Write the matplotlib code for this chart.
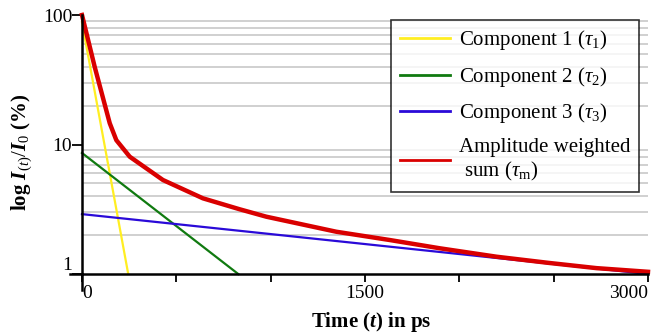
import matplotlib
matplotlib.use("Agg")
import matplotlib.pyplot as plt
from matplotlib.ticker import FixedLocator, NullFormatter, LogLocator

plt.rcParams['font.family'] = ['Liberation Serif', 'DejaVu Serif']
plt.rcParams['mathtext.fontset'] = 'custom'
plt.rcParams['mathtext.rm'] = 'Liberation Serif'
plt.rcParams['mathtext.it'] = 'Liberation Serif:italic'
plt.rcParams['mathtext.bf'] = 'Liberation Serif:bold'
plt.rcParams['mathtext.bfit'] = 'Liberation Serif:bold:italic'

# data (time in ps, intensity in %)
t_c1 = [0, 245]
c1 = [88, 1.0]
t_c2 = [0, 828]
c2 = [8.6, 1.0]
t_c3 = [0, 3000]
c3 = [2.9, 1.0]
t_sum = [0, 67, 147, 182, 253, 429, 641, 836, 977, 1348, 1631, 1896, 2197, 2470, 2727, 3000]
v_sum = [100, 39.9, 14.6, 10.8, 8.05, 5.32, 3.84, 3.16, 2.77, 2.12, 1.83, 1.58, 1.36, 1.22, 1.11, 1.04]

labels = [r"Component 1 ($\tau_{1}$)", r"Component 2 ($\tau_{2}$)",
          r"Component 3 ($\tau_{3}$)", "Amplitude weighted\n sum ($\\tau_{\\rm m}$)"]
x_ticks = [0, 500, 1000, 1500, 2000, 2500, 3000]
x_ticklabels = ["0", "", "", "1500", "", "", "3000"]

W, H = 664, 334
fig = plt.figure(figsize=(W / 100, H / 100), dpi=100)
x0, x1, y0, y1 = 82, 648, 15, 274
ax = fig.add_axes([x0 / W, 1 - y1 / H, (x1 - x0) / W, (y1 - y0) / H])

ax.plot(t_c1, c1, color="#FFEE22", lw=1.6, label=labels[0], clip_on=False, zorder=3)
ax.plot(t_c2, c2, color="#107A10", lw=1.6, label=labels[1], clip_on=False, zorder=3)
ax.plot(t_c3, c3, color="#2A0AD8", lw=1.6, label=labels[2], clip_on=False, zorder=3)
ax.plot(t_sum, v_sum, color="#D90000", lw=3.2, label=labels[3], clip_on=False, zorder=4)

ax.set_yscale("log")
ax.set_xlim(0, 3000)
ax.set_ylim(1, 100)

for s in ["top", "right"]:
    ax.spines[s].set_visible(False)
for s in ["left", "bottom"]:
    ax.spines[s].set_linewidth(1.8)
    ax.spines[s].set_zorder(5)

# axis stubs crossing at the origin
ax.plot([-0.022, 0], [0, 0], transform=ax.transAxes, color="k", lw=1.8, clip_on=False)
ax.plot([0, 0], [-0.062, 0], transform=ax.transAxes, color="k", lw=1.8, clip_on=False)

ax.yaxis.set_major_locator(FixedLocator([1, 10, 100]))
ax.set_yticklabels(["1", "10", "100"])
ax.yaxis.set_minor_locator(LogLocator(base=10, subs=range(2, 10)))
ax.yaxis.set_minor_formatter(NullFormatter())
ax.tick_params(axis="y", which="major", direction="out", length=7, width=1.3,
               labelsize=14, pad=0)
ax.tick_params(axis="y", which="minor", length=0)
ax.yaxis.grid(True, which="minor", color="#C4C4C4", lw=1.1)
ax.set_axisbelow(True)
ylab = ax.get_yticklabels()
ylab[0].set_verticalalignment("bottom")

ax.set_xticks(x_ticks)
ax.set_xticklabels(x_ticklabels)
ax.tick_params(axis="x", direction="out", length=6, width=1.3, labelsize=14, pad=2)
xl = ax.get_xticklabels()
xl[0].set_horizontalalignment("left")
xl[-1].set_horizontalalignment("right")

fig.text(371 / W, 1 - 322 / H, r"Time ($\mathbfit{t}$) in ps", ha="center", va="center",
         fontsize=15, fontweight="bold")
fig.text(22 / W, 1 - 152 / H, r"log $\mathbfit{I}_{(t)}/\mathbfit{I}_{0}$ (%)", ha="center",
         va="center", rotation=90, fontsize=15, fontweight="bold")

leg = ax.legend(loc="upper right", bbox_to_anchor=(639 / W, 1 - 20 / H),
                bbox_transform=fig.transFigure, fontsize=15, frameon=True,
                fancybox=False, edgecolor="black", handlelength=2.4,
                handletextpad=0.45, labelspacing=0.6, borderpad=0.4,
                borderaxespad=0)
leg.get_frame().set_linewidth(1.2)
for line in leg.get_lines():
    line.set_linewidth(2.0)
leg.set_zorder(10)

fig.savefig("out.png", dpi=100)
